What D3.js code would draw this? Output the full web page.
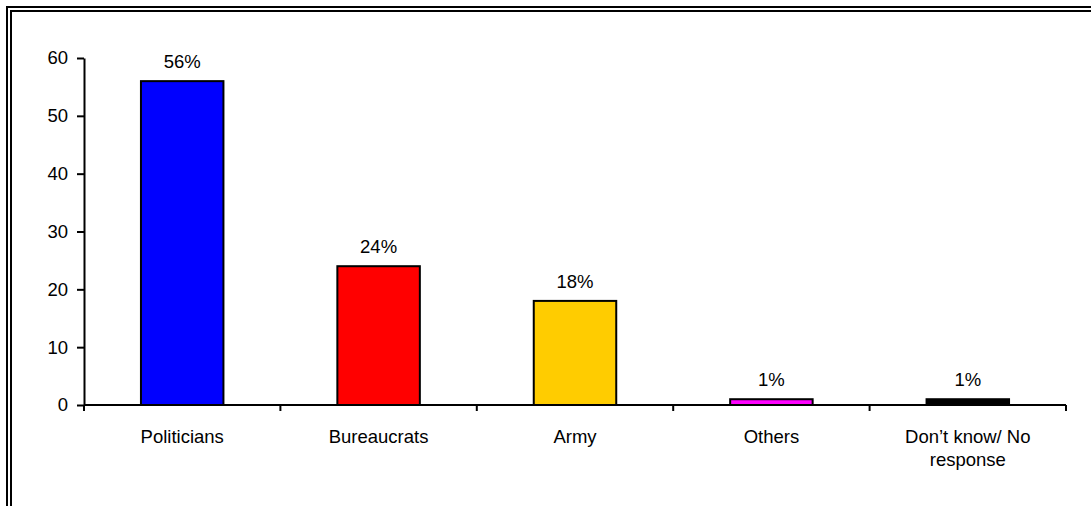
<!DOCTYPE html>
<html>
<head>
<meta charset="utf-8">
<script src="https://d3js.org/d3.v7.min.js"></script>
<style>
  body { margin: 0; background: #fff; }
  svg { display: block; font-family: "Liberation Sans", Arial, sans-serif; }
</style>
</head>
<body>
<svg id="chart"></svg>
<script>
var categories = ["Politicians", "Bureaucrats", "Army", "Others", "Don\u2019t know/ No response"];
var values = [56, 24, 18, 1, 1];
var barColors = ["#0000FF", "#FF0000", "#FFCC00", "#FF00FF", "#000000"];
var yTicks = [0, 10, 20, 30, 40, 50, 60];

var width = 1091, height = 506;
var mLeft = 84, mRight = 1066, mTop = 58, mBottom = 405;
var fontSize = 18.5;

var svg = d3.select("#chart").attr("width", width).attr("height", height);

// double frame (right and bottom run off the picture)
svg.append("rect").attr("x", 7).attr("y", 7).attr("width", 1100).attr("height", 520)
    .attr("fill", "none").attr("stroke", "#000").attr("stroke-width", 2);
svg.append("rect").attr("x", 11).attr("y", 11).attr("width", 1100).attr("height", 520)
    .attr("fill", "none").attr("stroke", "#000").attr("stroke-width", 2);

var x = d3.scaleBand().domain(categories).range([mLeft, mRight]).paddingInner(0.58).paddingOuter(0.29);
var y = d3.scaleLinear().domain([0, 60]).range([mBottom, mTop]);

// y axis
var yAxis = svg.append("g").attr("transform", "translate(" + mLeft + ",0)")
    .call(d3.axisLeft(y).tickValues(yTicks).tickSize(7).tickPadding(9).tickSizeOuter(0));
yAxis.select(".domain").attr("stroke-width", 2);
yAxis.selectAll(".tick line").attr("stroke-width", 2);
yAxis.selectAll(".tick text").attr("font-size", fontSize).attr("fill", "#000")
    .attr("font-family", "Liberation Sans, Arial, sans-serif");

// bars
svg.selectAll(".bar").data(values).enter().append("rect")
    .attr("class", "bar")
    .attr("x", function (d, i) { return x(categories[i]); })
    .attr("y", function (d) { return y(d); })
    .attr("width", x.bandwidth())
    .attr("height", function (d) { return mBottom - y(d); })
    .attr("fill", function (d, i) { return barColors[i]; })
    .attr("stroke", "#000").attr("stroke-width", 2);

// x axis line and boundary ticks
svg.append("line").attr("x1", mLeft).attr("x2", mRight).attr("y1", mBottom).attr("y2", mBottom)
    .attr("stroke", "#000").attr("stroke-width", 2);
var bounds = d3.range(categories.length + 1).map(function (i) { return mLeft + i * x.step(); });
svg.selectAll(".xtick").data(bounds).enter().append("line")
    .attr("x1", function (d) { return d; }).attr("x2", function (d) { return d; })
    .attr("y1", mBottom).attr("y2", mBottom + 6)
    .attr("stroke", "#000").attr("stroke-width", 2);

// value labels
svg.selectAll(".val").data(values).enter().append("text")
    .attr("x", function (d, i) { return x(categories[i]) + x.bandwidth() / 2; })
    .attr("y", function (d) { return y(d) - 13; })
    .attr("text-anchor", "middle").attr("font-size", fontSize)
    .text(function (d) { return d + "%"; });

// category labels, wrapped like the original
var catLines = [["Politicians"], ["Bureaucrats"], ["Army"], ["Others"], ["Don\u2019t know/ No", "response"]];
categories.forEach(function (c, i) {
  var cx = x(c) + x.bandwidth() / 2;
  var t = svg.append("text").attr("text-anchor", "middle").attr("font-size", fontSize)
      .attr("x", cx).attr("y", 443);
  catLines[i].forEach(function (ln, j) {
    t.append("tspan").attr("x", cx).attr("dy", j === 0 ? 0 : 23).text(ln);
  });
});
</script>
</body>
</html>
